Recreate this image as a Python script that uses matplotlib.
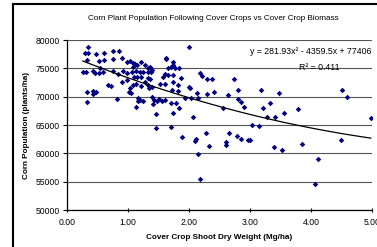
import matplotlib.pyplot as plt
import numpy as np
from matplotlib.lines import Line2D

plt.rcParams['font.family'] = ['Liberation Sans', 'DejaVu Sans']

# --- Data ---
biomass = [
    0.34, 0.30, 0.35, 0.47, 0.60, 0.75, 0.85, 0.32, 0.53, 0.61, 0.76, 0.90, 0.98, 1.03, 1.09, 1.14,
    0.26, 0.31, 0.43, 0.54, 0.46, 0.52, 0.59, 0.76, 0.84, 0.92, 0.98, 1.06, 1.10, 0.68, 0.72, 0.90,
    0.98, 1.03, 1.13, 0.33, 0.43, 0.48, 1.05, 0.43, 1.02, 0.33, 0.82, 1.17, 1.13, 2.00, 1.11, 1.09,
    1.22, 1.28, 1.33, 1.36, 1.39, 1.13, 1.20, 1.25, 1.33, 1.37, 1.14, 1.22, 1.32, 1.36, 1.28, 1.33,
    1.39, 1.09, 1.63, 1.62, 1.74, 1.73, 1.70, 1.77, 1.66, 1.84, 1.61, 1.66, 1.73, 1.58, 1.87, 2.18,
    2.22, 2.30, 1.52, 1.61, 1.74, 1.82, 2.00, 1.72, 1.82, 2.13, 2.29, 1.22, 1.35, 1.17, 1.24, 1.19,
    1.39, 1.43, 1.47, 1.41, 1.51, 1.55, 1.60, 1.70, 1.79, 1.84, 1.93, 2.03, 2.14, 1.46, 1.73, 2.07,
    1.46, 1.70, 1.88, 2.11, 2.10, 2.28, 2.37, 2.74, 2.41, 2.80, 3.18, 3.48, 4.50, 4.59, 2.02, 2.64,
    2.81, 2.86, 2.90, 3.33, 3.22, 2.55, 3.55, 3.79, 3.28, 3.41, 3.03, 3.15, 4.98, 2.66, 2.79, 2.86,
    2.96, 3.00, 2.61, 2.61, 2.33, 3.39, 3.52, 3.86, 4.49, 2.15, 4.12, 2.18, 4.07,
]
population = [
    78800, 77650, 77650, 77530, 77760, 78110, 78110, 76470, 76290, 76470, 76650, 76770, 76170, 76290, 75890, 75590,
    74300, 74300, 74530, 75010, 74120, 74120, 74300, 74530, 73950, 74580, 74120, 74410, 73520, 72060, 71930, 72640,
    72940, 71470, 72180, 70770, 71000, 70770, 70700, 70420, 70880, 69000, 69590, 69230, 68230, 78820, 75710, 75290,
    76170, 75590, 75010, 75290, 74710, 74530, 74300, 74410, 74410, 74300, 73520, 73520, 73350, 73120, 72640, 72060,
    71760, 72060, 76880, 76650, 76060, 75590, 75290, 75010, 75010, 75010, 73950, 73820, 73820, 73520, 73240, 74120,
    73650, 73060, 72180, 72180, 72640, 72060, 71650, 71180, 71000, 70590, 70470, 71930, 71470, 69820, 69230, 69410,
    70000, 69410, 69230, 68650, 69530, 69230, 69410, 68830, 68830, 68050, 69710, 69820, 69710, 66890, 67060, 66410,
    64420, 64700, 62930, 62530, 62170, 63640, 73120, 73120, 70880, 71180, 71180, 70650, 71180, 69890, 71470, 70290,
    69530, 69110, 68120, 68930, 67940, 67940, 67170, 67770, 66460, 66460, 65000, 64820, 66290, 63640, 63060, 62470,
    62350, 62350, 62050, 61470, 61290, 61170, 60590, 61590, 62350, 59830, 58940, 55410, 54530,
]

# Excel polynomial trendline
coef = [281.93, -4359.5, 77406]
r_squared = 0.411

fig = plt.figure(figsize=(3.77, 2.47), dpi=100)

# outer chart frame (cropped on right/bottom)
fig.add_artist(Line2D([13 / 377, 13 / 377], [0, 1 - 4 / 247], color='black', lw=1.5))
fig.add_artist(Line2D([13 / 377, 1], [1 - 4 / 247, 1 - 4 / 247], color='black', lw=1.5))

ax = fig.add_axes([67 / 377, 1 - 210 / 247, 305 / 377, 170 / 247])
ax.set_xlim(0, 5)
ax.set_ylim(50000, 80000)
ax.set_xticks(np.arange(0, 5.01, 1))
ax.set_xticklabels([f"{v:.2f}" for v in np.arange(0, 5.01, 1)])
ax.set_yticks(np.arange(50000, 80001, 5000))
ax.yaxis.grid(True, color='#555555', lw=0.8)
ax.set_axisbelow(True)
for s in ['top', 'right']:
    ax.spines[s].set_visible(False)
ax.spines['left'].set_linewidth(0.9)
ax.spines['bottom'].set_linewidth(0.9)
ax.tick_params(axis='y', direction='out', length=3, width=0.8, labelsize=6.2, pad=2)
ax.tick_params(axis='x', direction='inout', length=3, width=0.8, labelsize=6.2, pad=4)

ax.scatter(biomass, population, marker='D', s=8, color='#000080', linewidths=0, zorder=3)

xs = np.linspace(min(biomass), max(biomass), 100)
ax.plot(xs, np.polyval(coef, xs), color='black', lw=0.9, zorder=4)

ax.text(1.0, 0.935, "y = 281.93x² - 4359.5x + 77406", transform=ax.transAxes,
        ha='right', va='center', fontsize=6.3)
ax.text(0.895, 0.84, f"R² = {r_squared}", transform=ax.transAxes,
        ha='right', va='center', fontsize=6.3)

ax.set_title("Corn Plant Population Following Cover Crops vs Cover Crop Biomass",
             fontsize=5.9, pad=0, x=0.48, y=1 + 20 / 170)
ax.set_xlabel("Cover Crop Shoot Dry Weight (Mg/ha)", fontsize=5.9, fontweight='bold', labelpad=5)
ax.set_ylabel("Corn Population (plants/ha)", fontsize=5.9, fontweight='bold', labelpad=4)

fig.savefig("out.png", dpi=100)
